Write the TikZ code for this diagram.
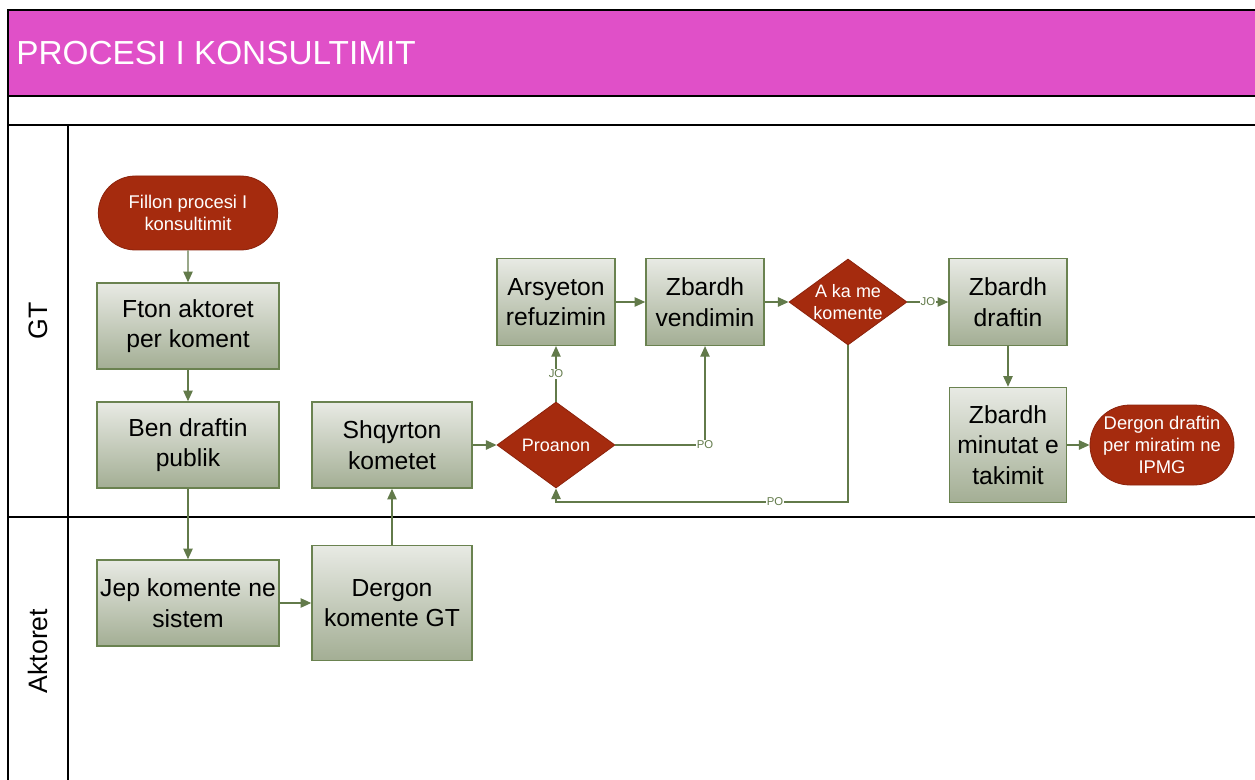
\documentclass[tikz,border=0pt]{standalone}
\usepackage{fontspec}
\setmainfont{Liberation Sans}
\usetikzlibrary{shapes.geometric,shapes.misc,arrows.meta}
\definecolor{hdr}{RGB}{224,80,200}
\definecolor{termred}{RGB}{165,43,14}
\definecolor{termline}{RGB}{140,35,12}
\definecolor{boxtop}{RGB}{232,234,228}
\definecolor{boxbot}{RGB}{163,174,148}
\definecolor{boxline}{RGB}{106,130,80}
\definecolor{flowc}{RGB}{98,122,74}
\begin{document}
\begin{tikzpicture}[x=0.75pt,y=-0.75pt,
  proc/.style={draw=boxline, line width=1.1pt, top color=boxtop, bottom color=boxbot,
    align=center, font=\fontsize{18.5}{23}\selectfont, inner sep=1pt},
  term/.style={rounded rectangle, draw=termline, line width=0.6pt, fill=termred, text=white,
    align=center, font=\fontsize{13.8}{16.5}\selectfont, inner sep=1pt},
  dec/.style={diamond, draw=termline, line width=0.6pt, fill=termred, inner sep=0pt,
    minimum width=88.5pt, minimum height=64.5pt},
  dectext/.style={text=white, align=center, font=\fontsize{13.5}{16.5}\selectfont, inner sep=0pt},
  flow/.style={draw=flowc, line width=1.1pt, -{Triangle[length=8pt,width=7pt]}},
  lbl/.style={fill=white, text=flowc, font=\fontsize{8.5}{9}\selectfont, inner sep=0.8pt},
  lane/.style={line width=1.5pt, draw=black},
  lanetext/.style={rotate=90, font=\fontsize{20}{22}\selectfont}
]
\useasboundingbox (0,0) rectangle (1255,780);
% header and frame
\fill[hdr] (8,10) rectangle (1255,96);
\draw[lane] (1255,10) -- (8,10) -- (8,780);
\draw[lane] (8,96) -- (1255,96);
\draw[lane] (8,125) -- (1255,125);
\draw[lane] (8,517) -- (1255,517);
\draw[lane] (68,125) -- (68,780);
\node[anchor=west, text=white, font=\fontsize{25}{28}\selectfont, inner sep=0pt] (title) at (16,53) {PROCESI I KONSULTIMIT};
\node[lanetext] (gt) at (38,321) {GT};
\node[lanetext] (akt) at (38,651) {Aktoret};

% nodes
\node[term, minimum width=136.5pt, minimum height=55.5pt] (start) at (188,213) {Fillon procesi I\\konsultimit};
\node[proc, minimum width=136.5pt, minimum height=64.5pt] (fton) at (188,326) {Fton aktoret\\per koment};
\node[proc, minimum width=136.5pt, minimum height=64.5pt] (ben) at (188,445) {Ben draftin\\publik};
\node[proc, minimum width=136.5pt, minimum height=64.5pt] (jep) at (188,603) {Jep komente ne\\sistem};
\node[proc, minimum width=120pt, minimum height=86.25pt] (dergon) at (392,603) {Dergon\\komente GT};
\node[proc, minimum width=120pt, minimum height=64.5pt] (shq) at (392,445) {Shqyrton\\kometet};
\node[dec] (pro) at (556,445) {};
\node[dectext] at (pro.center) {Proanon};
\node[proc, minimum width=88.5pt, minimum height=65pt] (ars) at (556,302) {Arsyeton\\refuzimin};
\node[proc, minimum width=88.5pt, minimum height=65pt] (zv) at (705,302) {Zbardh\\vendimin};
\node[dec] (aka) at (848,302) {};
\node[dectext] at (aka.center) {A ka me\\komente};
\node[proc, minimum width=88.5pt, minimum height=65pt] (zd) at (1008,302) {Zbardh\\draftin};
\node[proc, minimum width=88pt, minimum height=86.25pt] (zm) at (1008,445) {Zbardh\\minutat e\\takimit};
\node[term, minimum width=110pt, minimum height=60pt] (end) at (1162,445) {Dergon draftin\\per miratim ne\\IPMG};

% connectors
\draw[flow] (start) -- (fton);
\draw[flow] (fton) -- (ben);
\draw[flow] (ben) -- (jep);
\draw[flow] (jep) -- (dergon);
\draw[flow] (dergon) -- (shq);
\draw[flow] (shq) -- (pro);
\draw[flow] (pro.north) -- node[lbl, pos=0.5] {JO} (ars.south);
\draw[flow] (pro.east) -| node[lbl, pos=0.5] {PO} (zv.south);
\draw[flow] (ars) -- (zv);
\draw[flow] (zv) -- (aka);
\draw[flow] (aka.east) -- node[lbl] {JO} (zd.west);
\draw[flow] (aka.south) |- node[lbl, pos=0.625] {PO} (556,502) -- (pro.south);
\draw[flow] (zd) -- (zm);
\draw[flow] (zm) -- (end);
\end{tikzpicture}
\end{document}
